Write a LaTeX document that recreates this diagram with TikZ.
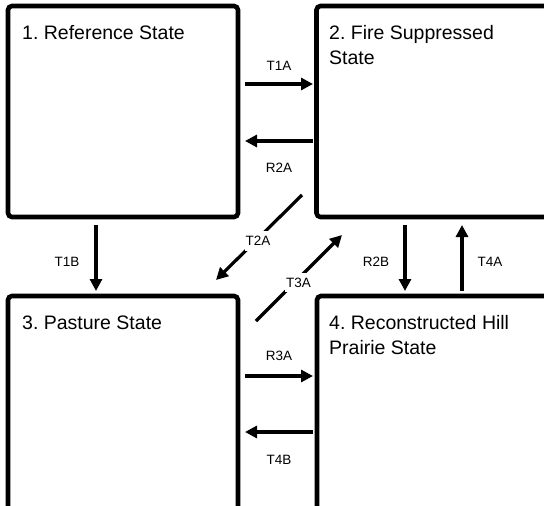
\documentclass[tikz,border=0pt]{standalone}
\usepackage{fontspec}
\setmainfont{Liberation Sans}
\usetikzlibrary{arrows.meta}
\begin{document}
\frenchspacing
\begin{tikzpicture}[x=1pt,y=-1pt,
  box/.style={draw=black,line width=4.6pt,rounded corners=4pt,inner sep=0pt,fill=white},
  title/.style={anchor=base west,inner sep=0pt,font=\fontsize{19.5}{22}\selectfont},
  arr/.style={line width=3.2pt,-{Triangle[length=12pt,width=12pt]}},
  lab/.style={font=\fontsize{13.5}{15}\selectfont,inner sep=1pt},
  wlab/.style={lab,fill=white,inner xsep=1pt,inner ysep=5pt}]
\useasboundingbox (0,0) rectangle (544,506);
\clip (0,0) rectangle (544,506);
\node[box,minimum width=230pt,minimum height=211pt] (b1) at (123,111.5) {};
\node[box,minimum width=244pt,minimum height=211pt] (b2) at (438.5,111.5) {};
\node[box,minimum width=230pt,minimum height=224pt] (b3) at (123,408) {};
\node[box,minimum width=244pt,minimum height=224pt] (b4) at (439,408) {};
\node[title] (t1) at (22,39.5) {1. Reference State};
\node[title] (t2) at (329,39.5) {2. Fire Suppressed};
\node[title] (t2b) at (329,64.5) {State};
\node[title] (t3) at (22,329) {3. Pasture State};
\node[title] (t4) at (329,329) {4. Reconstructed Hill};
\node[title] (t4b) at (329,354.5) {Prairie State};
% coordinates
\coordinate (a1s) at (245,84);  \coordinate (a1e) at (313,84);
\coordinate (a2s) at (313,141); \coordinate (a2e) at (245,141);
\coordinate (a3s) at (96,225);  \coordinate (a3e) at (96,291);
\coordinate (a4s) at (405,225); \coordinate (a4e) at (405,291);
\coordinate (a5s) at (462,291); \coordinate (a5e) at (462,225);
\coordinate (a6s) at (245,376); \coordinate (a6e) at (313,376);
\coordinate (a7s) at (313,432); \coordinate (a7e) at (245,432);
\coordinate (a8s) at (302,195); \coordinate (a8e) at (216,280);
\coordinate (a9s) at (256,321); \coordinate (a9e) at (342,235);
\draw[arr] (a1s) -- (a1e);
\draw[arr] (a2s) -- (a2e);
\draw[arr] (a3s) -- (a3e);
\draw[arr] (a4s) -- (a4e);
\draw[arr] (a5s) -- (a5e);
\draw[arr] (a6s) -- (a6e);
\draw[arr] (a7s) -- (a7e);
\draw[arr] (a8s) -- (a8e);
\draw[arr] (a9s) -- (a9e);
\node[lab] (l1) at (279,66) {T1A};
\node[lab] (l2) at (279,168) {R2A};
\node[lab] (l3) at (67,262) {T1B};
\node[lab] (l4) at (376,262) {R2B};
\node[lab] (l5) at (490,262) {T4A};
\node[lab] (l6) at (279,355.5) {R3A};
\node[lab] (l7) at (279,459.5) {T4B};
\node[wlab] (l8) at (258,241) {T2A};
\node[wlab] (l9) at (298.5,282.5) {T3A};
\end{tikzpicture}
\end{document}
